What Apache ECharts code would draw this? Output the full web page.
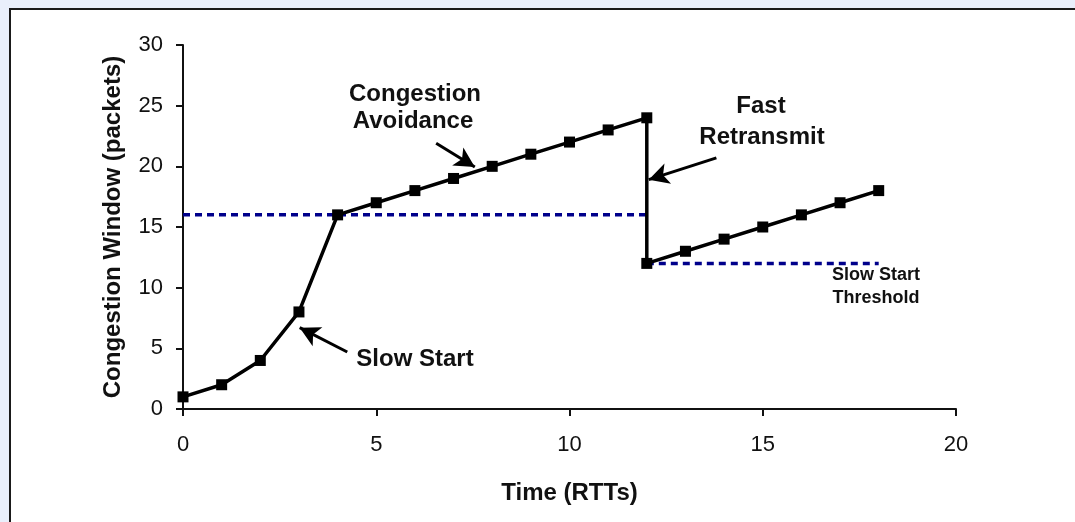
<!DOCTYPE html>
<html>
<head>
<meta charset="utf-8">
<script src="https://cdn.jsdelivr.net/npm/echarts@6/dist/echarts.min.js"></script>
<style>
  html, body { margin: 0; padding: 0; background: #e9effb; }
  #chart { width: 1075px; height: 522px; }
</style>
</head>
<body>
<div id="chart"></div>
<script>
// TCP congestion window over time (RTTs)
const rtt  = [0, 1, 2, 3, 4, 5, 6, 7, 8, 9, 10, 11, 12, 12, 13, 14, 15, 16, 17, 18];
const cwnd = [1, 2, 4, 8, 16, 17, 18, 19, 20, 21, 22, 23, 24, 12, 13, 14, 15, 16, 17, 18];

// slow start threshold before and after the loss
const ssthreshBefore = [[0, 16], [12, 16]];
const ssthreshAfter  = [[12, 12], [18, 12]];

// annotation arrows: [start, tip] in (RTT, packets)
const arrowAvoidance  = [[6.55, 21.9], [7.55, 19.95]];
const arrowRetransmit = [[13.8, 20.7], [12.05, 18.9]];
const arrowSlowStart  = [[4.25, 4.7], [3.02, 6.7]];

const xTickLabels = ['0', '5', '10', '15', '20'];
const yTickLabels = ['0', '5', '10', '15', '20', '25', '30'];

const FONT = '"Liberation Sans", Arial, sans-serif';
const INK = '#000';
const NAVY = '#00008b';

const chart = echarts.init(document.getElementById('chart'));

function arrowLine(pair) {
  return [{ coord: pair[0] }, { coord: pair[1] }];
}

function label(text, x, y, size) {
  return {
    type: 'text', x: x, y: y, silent: true, z: 10,
    style: {
      text: text, fill: '#111', font: 'bold ' + size + 'px ' + FONT,
      align: 'center', verticalAlign: 'middle'
    }
  };
}

const option = {
  animation: false,
  backgroundColor: 'transparent',
  grid: { left: 183, right: 119, top: 45, bottom: 113, containLabel: false },
  xAxis: {
    type: 'value', min: 0, max: 20, interval: 5,
    name: 'Time (RTTs)', nameLocation: 'middle', nameGap: 72,
    nameTextStyle: { fontFamily: FONT, fontWeight: 'bold', fontSize: 24, color: '#111' },
    axisLine: { show: true, onZero: false, lineStyle: { color: '#111', width: 2 } },
    axisTick: { show: true, inside: false, length: 7, lineStyle: { color: '#111', width: 2 } },
    axisLabel: {
      margin: 25, fontFamily: FONT, fontSize: 22, color: '#111',
      formatter: v => xTickLabels[v / 5]
    },
    splitLine: { show: false }
  },
  yAxis: {
    type: 'value', min: 0, max: 30, interval: 5,
    name: 'Congestion Window (packets)', nameLocation: 'middle', nameGap: 58,
    nameTextStyle: { fontFamily: FONT, fontWeight: 'bold', fontSize: 24, color: '#111' },
    axisLine: { show: true, onZero: false, lineStyle: { color: '#111', width: 2 } },
    axisTick: { show: true, inside: false, length: 7, lineStyle: { color: '#111', width: 2 } },
    axisLabel: {
      margin: 20, fontFamily: FONT, fontSize: 22, color: '#111',
      formatter: v => yTickLabels[v / 5]
    },
    splitLine: { show: false }
  },
  graphic: [
    {
      type: 'rect', silent: true, z: -10,
      shape: { x: 10, y: 9, width: 1200, height: 700 },
      style: { fill: '#ffffff', stroke: '#1a1a1a', lineWidth: 2 }
    },
    label('Congestion', 415, 94, 24),
    label('Avoidance', 413, 121, 24),
    label('Fast', 761, 106, 24),
    label('Retransmit', 762, 137, 24),
    label('Slow Start', 415, 359, 24),
    label('Slow Start', 876, 275, 18),
    label('Threshold', 876, 298, 18)
  ],
  series: [
    {
      name: 'ssthresh-before', type: 'line', silent: true,
      data: ssthreshBefore, symbol: 'none',
      lineStyle: { color: NAVY, width: 3.5, type: [7, 5] }, z: 2
    },
    {
      name: 'ssthresh-after', type: 'line', silent: true,
      data: ssthreshAfter, symbol: 'none',
      lineStyle: { color: NAVY, width: 3.5, type: [7, 5] }, z: 2
    },
    {
      name: 'cwnd', type: 'line', silent: true,
      data: rtt.map((t, i) => [t, cwnd[i]]),
      symbol: 'rect', symbolSize: 11,
      itemStyle: { color: INK },
      lineStyle: { color: INK, width: 3.5 },
      z: 5,
      markLine: {
        silent: true, animation: false,
        symbol: ['none', 'arrow'], symbolSize: [16, 20],
        label: { show: false },
        lineStyle: { color: INK, width: 3, type: 'solid' },
        emphasis: { disabled: true },
        data: [arrowLine(arrowAvoidance), arrowLine(arrowRetransmit), arrowLine(arrowSlowStart)]
      }
    }
  ]
};

chart.setOption(option);
</script>
</body>
</html>
